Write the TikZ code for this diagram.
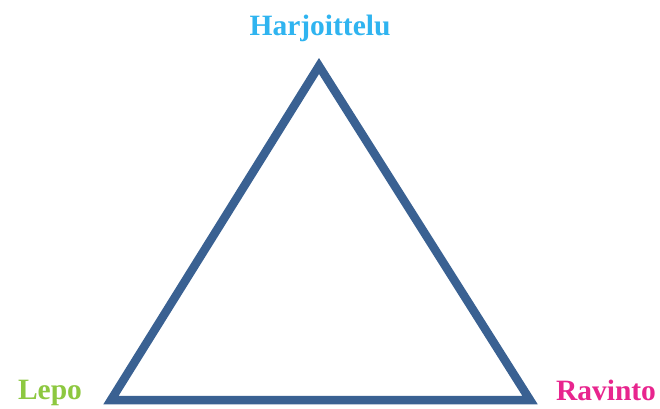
\documentclass[tikz,border=0pt]{standalone}
\usepackage{fontspec}
\setmainfont{Liberation Serif}
\definecolor{tri}{HTML}{3A6192}
\definecolor{harj}{HTML}{2FB4F0}
\definecolor{lepo}{HTML}{8DC840}
\definecolor{ravi}{HTML}{E8258E}
\tikzset{lab/.style={font=\fontsize{29.5}{31}\selectfont\bfseries, inner sep=0pt, anchor=base}}
\begin{document}
\begin{tikzpicture}[x=1pt,y=-1pt]
\useasboundingbox (0,0) rectangle (660,408);
\fill[white] (0,0) rectangle (660,408);
\coordinate (A) at (319,66);
\coordinate (B) at (111,400);
\coordinate (C) at (530,400);
\draw[tri, line width=8.5pt, line join=miter] (A) -- (B) -- (C) -- cycle;
\node[lab, text=harj] (h) at (320,35) {Harjoittelu};
\node[lab, text=lepo] (l) at (50,399) {Lepo};
\node[lab, text=ravi] (r) at (606,400) {Ravinto};
\end{tikzpicture}
\end{document}
